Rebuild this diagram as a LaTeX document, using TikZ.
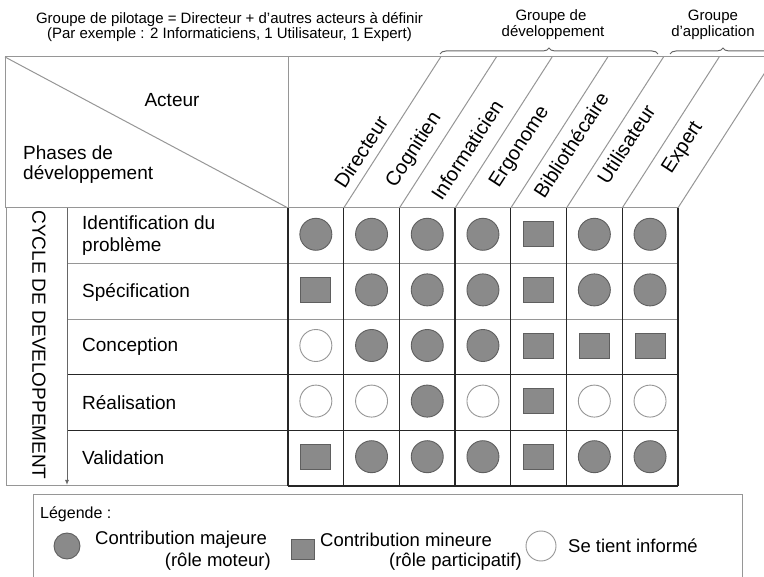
\documentclass[tikz,border=0pt]{standalone}
\usepackage{fontspec}
\setmainfont{Liberation Sans}
\usetikzlibrary{decorations.pathreplacing,arrows.meta}
\definecolor{fillgray}{RGB}{138,138,138}
\definecolor{edgegray}{RGB}{95,95,95}
\definecolor{linegray}{RGB}{150,150,150}
\tikzset{
  mj/.style={circle,draw=edgegray,fill=fillgray,line width=0.9pt,minimum size=32pt,inner sep=0pt},
  mn/.style={rectangle,draw=edgegray,fill=fillgray,line width=0.9pt,minimum width=30pt,minimum height=25pt,inner sep=0pt},
  inf/.style={circle,draw=linegray,fill=white,line width=0.9pt,minimum size=32pt,inner sep=0pt},
  thinline/.style={draw=linegray,line width=1pt},
  darkline/.style={draw=black!85,line width=1.3pt},
  hdr/.style={font=\fontsize{15}{16}\selectfont,inner sep=0pt,align=center},
  lbl/.style={font=\fontsize{19}{22}\selectfont,inner sep=0pt,align=left},
  actor/.style={font=\fontsize{20}{22}\selectfont,inner sep=0pt,rotate=57},
  leg/.style={font=\fontsize{18.5}{22}\selectfont,inner sep=0pt},
  bracestyle/.style={draw=black!60,line width=1pt,decorate,decoration={brace,amplitude=6pt}}
}
\begin{document}
\begin{tikzpicture}[x=1pt,y=-1pt]
\useasboundingbox (0,0) rectangle (764,577);
\clip (0,0) rectangle (764,577);

% top texts
\node[hdr] (pil1) at (229.5,20) {Groupe de pilotage = Directeur + d'autres acteurs à définir};
\node[hdr] (pil2) at (229.5,35) {(Par exemple : 2 Informaticiens, 1 Utilisateur, 1 Expert)};
\node[hdr] (gdev1) at (551,17) {Groupe de};
\node[hdr] (gdev2) at (553,33) {développement};
\node[hdr] (gapp1) at (713,17) {Groupe};
\node[hdr] (gapp2) at (713,33) {d'application};
\draw[bracestyle] (440,54) -- (658,54);
\draw[bracestyle] (670,54) -- (776,54);

% header frame
\draw[thinline] (5,57) -- (764,57);
\draw[thinline] (5,57) -- (5,208);
\draw[thinline] (288,57) -- (288,208);
\draw[thinline] (5,57) -- (288,208);
\draw[thinline] (5,208) -- (678,208);
\foreach \k in {1,...,7}{
  \draw[thinline] ({288+55.7*\k},208) -- ({288+55.7*\k+97},57);
}
\node[lbl] (acteur) at (172,100) {Acteur};
\node[lbl,anchor=west,font=\fontsize{19}{20}\selectfont] (phases) at (23,165) {Phases de\\développement};

% actor labels
\node[actor] (a1) at (361,152) {Directeur};
\node[actor] (a2) at (414,150) {Cognitien};
\node[actor] (a3) at (467,150) {Informaticien};
\node[actor] (a4) at (520,147) {Ergonome};
\node[actor] (a5) at (571,145) {Bibliothécaire};
\node[actor] (a6) at (626,144) {Utilisateur};
\node[actor] (a7) at (683,148) {Expert};

% left part
\draw[thinline] (6,208) -- (6,486);
\draw[thinline] (6,486) -- (288,486);
\draw[thinline] (67,263.6) -- (288,263.6);
\draw[thinline] (67,319.2) -- (288,319.2);
\draw[darkline] (67,374.8) -- (678,374.8);
\draw[darkline] (67,430.4) -- (678,430.4);
\draw[thinline] (288,263.6) -- (678,263.6);
\draw[thinline] (288,319.2) -- (678,319.2);
\draw[darkline] (288,486) -- (678,486);
\coordinate (arrtop) at (67,208);
\coordinate (arrbot) at (67,485);
\draw[draw=black!60,line width=1pt,-{Latex[length=5pt,width=4pt]}] (arrtop) -- (arrbot);
\node[lbl,rotate=-90] (cycle) at (39,345) {CYCLE DE DEVELOPPEMENT};

% vertical grid lines
\foreach \k in {0,...,7}{
  \draw[darkline] ({288+55.7*\k},208) -- ({288+55.7*\k},486);
}

% row labels
\node[lbl,anchor=west] (r1) at (82,236) {Identification du\\problème};
\node[lbl,anchor=west] (r2) at (82,292) {Spécification};
\node[lbl,anchor=west] (r3) at (82,347) {Conception};
\node[lbl,anchor=west] (r4) at (82,403) {Réalisation};
\node[lbl,anchor=west] (r5) at (82,458) {Validation};

% cells
\foreach \r/\row in {1/{mj,mj,mj,mj,mn,mj,mj},2/{mn,mj,mj,mj,mn,mj,mj},3/{inf,mj,mj,mj,mn,mn,mn},4/{inf,inf,mj,inf,mn,inf,inf},5/{mn,mj,mj,mj,mn,mj,mj}}{
  \foreach \t [count=\c] in \row {
    \node[\t] (cell-\r-\c) at ({288+55.7*(\c-0.5)},{208+55.6*(\r-0.5)-1.5}) {};
  }
}

% legend
\draw[thinline] (33,590) -- (33,495) -- (742,495) -- (742,590);
\node[font=\fontsize{16}{18}\selectfont,inner sep=0pt,anchor=west] (legt) at (40,514) {Légende :};
\node[mj,minimum size=26pt] (lg1) at (67,546) {};
\node[leg,anchor=west] (lt1a) at (95,540) {Contribution majeure};
\node[leg,anchor=east] (lt1b) at (271,562) {(rôle moteur)};
\node[mn,minimum width=23pt,minimum height=20pt] (lg2) at (303,549) {};
\node[leg,anchor=west] (lt2a) at (320,540) {Contribution mineure};
\node[leg,anchor=east] (lt2b) at (522,562) {(rôle participatif)};
\node[inf,minimum size=30pt] (lg3) at (541,546) {};
\node[leg,anchor=west] (lt3) at (568,546) {Se tient informé};
\end{tikzpicture}
\end{document}
